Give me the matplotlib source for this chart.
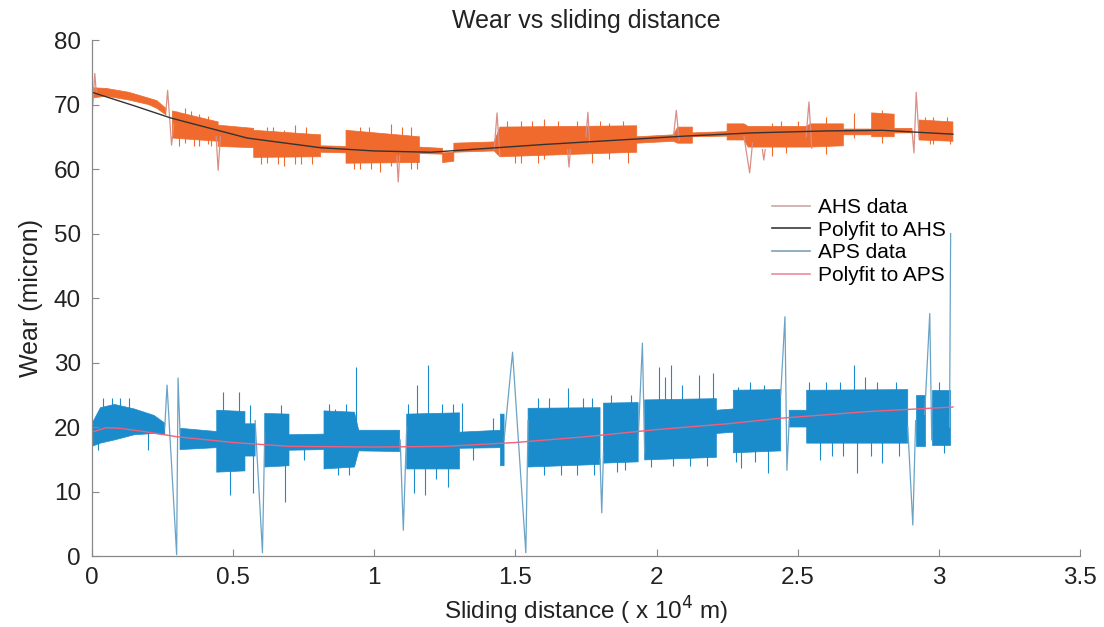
import numpy as np
import matplotlib.pyplot as plt

nan = np.nan

# AHS wear band: x, lower and upper edge of the noisy signal (nan = break)
ahs_x = [0.00, 0.05, 0.13, 0.20, 0.23, 0.262, nan,
         0.285, 0.447, 0.447, 0.573, 0.573, 0.81, 0.81, 0.90, 0.90, 1.16,
         1.16, 1.242, 1.242, 1.282, 1.282, 1.425, 1.445, 1.93, 1.93, 2.06,
         2.075, 2.127, 2.127, 2.25, 2.25, 2.31, 2.325, 2.53, 2.545, 2.662,
         2.662, 2.762, 2.762, 2.842, 2.842, 2.905, nan, 2.93, 3.05]
ahs_lo = [71.0, 71.3, 70.7, 70.0, 69.4, 68.4, nan,
          64.8, 64.3, 63.5, 63.3, 61.8, 61.9, 62.6, 62.5, 60.9, 61.0,
          62.4, 62.3, 61.0, 61.2, 62.6, 62.8, 61.9, 62.6, 64.0, 64.3,
          64.0, 64.0, 65.0, 65.1, 64.5, 64.5, 63.4, 63.4, 63.4, 63.6,
          65.3, 65.3, 65.0, 65.0, 65.6, 65.6, nan, 64.5, 64.3]
ahs_hi = [72.6, 72.5, 71.9, 71.0, 70.6, 69.4, nan,
          69.0, 67.3, 66.8, 66.3, 66.0, 65.3, 63.6, 63.5, 66.0, 65.0,
          63.4, 63.2, 62.5, 62.6, 64.0, 64.2, 66.5, 66.7, 65.0, 65.3,
          66.5, 66.5, 65.6, 65.8, 67.0, 67.0, 66.6, 66.6, 67.0, 67.0,
          66.2, 66.2, 68.7, 68.5, 66.3, 66.3, nan, 67.6, 67.3]

# AHS excursions (jumps between runs)
ahs_jump_x = [0.0, 0.0, 0.01, 0.015, nan, 0.262, 0.268, 0.282, 0.29, nan,
              0.44, 0.447, 0.455, nan, 1.08, 1.085, 1.09, nan,
              1.425, 1.435, 1.445, nan, 1.685, 1.69, 1.695, nan,
              1.75, 1.757, 1.763, nan, 2.06, 2.07, 2.08, nan,
              2.31, 2.33, 2.34, nan, 2.375, 2.38, 2.385, nan,
              2.53, 2.54, 2.55, nan, 2.905, 2.912, 2.92, 2.93]
ahs_jump_y = [55.0, 68.0, 74.8, 72.0, nan, 69.0, 72.2, 63.7, 67.0, nan,
              65.0, 59.8, 65.0, nan, 62.0, 58.0, 62.0, nan,
              63.0, 68.7, 62.0, nan, 63.0, 60.3, 63.0, nan,
              65.0, 68.8, 64.0, nan, 65.0, 69.1, 64.5, nan,
              65.0, 59.4, 64.0, nan, 63.0, 61.4, 63.0, nan,
              65.0, 70.4, 63.2, nan, 66.0, 62.5, 71.9, 65.0]

# AHS single spikes sticking out of the band
ahs_spk_x = [0.30, 0.31, 0.33, 0.35, 0.36, 0.38, 0.41, 0.42, 0.60, 0.62,
             0.64, 0.66, 0.68, 0.72, 0.74, 0.76, 0.78, 0.93, 0.95, 0.98,
             0.99, 1.02, 1.06, 1.10, 1.13, 1.15, 1.47, 1.50, 1.52, 1.56,
             1.58, 1.60, 1.65, 1.72, 1.77, 1.80, 1.83, 1.88, 1.90, 2.41,
             2.44, 2.46, 2.50, 2.60, 2.70, 2.80, 2.95, 2.97, 2.98, 3.03,
             3.04]
ahs_spk_lo = [66.0, 63.5, 64.0, 66.0, 63.5, 63.5, 63.8, 63.5, 60.8, 61.0,
              63.0, 60.8, 60.5, 60.8, 60.8, 63.0, 60.8, 60.0, 60.0, 63.0,
              60.0, 59.5, 60.5, 63.0, 60.0, 60.0, 64.0, 61.0, 61.0, 64.0,
              61.0, 61.5, 64.0, 64.0, 61.0, 64.0, 61.5, 64.0, 61.0, 62.0,
              64.0, 62.5, 64.0, 62.3, 64.8, 64.0, 65.0, 63.8, 63.8, 65.0,
              63.8]
ahs_spk_hi = [69.0, 66.0, 69.5, 69.0, 66.0, 68.5, 68.2, 66.0, 63.0, 66.5,
              66.5, 63.0, 66.0, 66.8, 63.0, 66.5, 63.0, 63.0, 66.5, 66.5,
              63.0, 65.5, 67.0, 66.5, 66.5, 63.0, 67.5, 64.0, 67.5, 67.5,
              64.0, 67.8, 67.5, 67.5, 64.0, 67.5, 67.2, 67.5, 64.0, 67.2,
              67.5, 64.5, 67.5, 68.0, 68.7, 69.2, 68.0, 66.0, 68.0, 68.0,
              66.0]

# polynomial fit to AHS
ahs_fit_x = [0.0, 0.15, 0.28, 0.55, 0.81, 1.0, 1.2, 1.4, 1.6, 1.87, 2.1,
             2.34, 2.6, 2.8, 3.05]
ahs_fit_y = [71.9, 69.8, 67.9, 64.8, 63.3, 62.8, 62.6, 63.2, 63.8, 64.5, 65.1,
             65.6, 65.9, 66.0, 65.4]

# APS wear band
aps_x = [0.00, 0.03, 0.08, 0.15, 0.22, 0.258, nan,
         0.312, 0.442, 0.442, 0.542, 0.542, 0.578, nan,
         0.612, 0.698, 0.698, 0.822, 0.822, 0.93, 0.945, 1.09, nan,
         1.115, 1.302, 1.302, 1.447, 1.447, 1.46, nan,
         1.545, 1.80, nan, 1.812, 1.935, nan, 1.958, 2.212, 2.212, 2.272,
         2.272, 2.44, nan, 2.47, 2.532, 2.532, 2.89, nan, 2.918, 2.95, nan,
         2.975, 3.04]
aps_lo = [17.0, 17.5, 18.0, 18.8, 19.0, 18.8, nan,
          16.5, 16.8, 13.0, 13.2, 15.5, 15.5, nan,
          13.8, 14.0, 16.4, 16.5, 13.5, 13.8, 16.3, 16.2, nan,
          13.5, 13.5, 16.7, 16.8, 14.0, 14.0, nan,
          13.8, 14.2, nan, 14.4, 14.6, nan, 14.9, 15.3, 19.0, 19.2,
          16.0, 16.3, nan, 20.0, 20.0, 17.5, 17.5, nan, 17.0, 17.0, nan,
          17.2, 17.2]
aps_hi = [20.5, 23.0, 23.5, 22.8, 21.8, 20.6, nan,
          19.8, 19.3, 22.6, 22.4, 20.5, 20.5, nan,
          22.1, 22.0, 18.8, 18.9, 22.5, 22.3, 19.5, 19.5, nan,
          22.0, 22.2, 19.2, 19.5, 22.0, 22.0, nan,
          22.9, 23.0, nan, 23.7, 23.8, nan, 24.2, 24.4, 22.6, 22.8,
          25.7, 25.8, nan, 22.6, 22.6, 25.7, 25.8, nan, 25.0, 25.0, nan,
          25.7, 25.7]

aps_jump_x = [0.258, 0.266, 0.300, 0.305, 0.312, nan, 0.578, 0.604, 0.612, nan,
              1.092, 1.103, 1.115, nan, 1.46, 1.49, 1.537, 1.545, nan,
              1.80, 1.806, 1.812, nan, 1.935, 1.95, 1.958, nan,
              2.44, 2.455, 2.462, 2.47, nan, 2.89, 2.908, 2.918, nan,
              2.95, 2.968, 2.975, nan, 3.038, 3.042]
aps_jump_y = [20.0, 26.5, 0.2, 27.6, 19.0, nan, 21.0, 0.5, 19.0, nan,
              18.0, 4.0, 20.0, nan, 18.0, 31.6, 0.5, 21.0, nan,
              15.0, 6.7, 16.0, nan, 18.0, 33.0, 16.0, nan,
              25.0, 37.1, 13.3, 21.0, nan, 20.0, 4.8, 21.0, nan,
              22.0, 37.6, 18.0, nan, 20.0, 50.0]

aps_spk_x = [0.02, 0.04, 0.07, 0.10, 0.13, 0.20, 0.465, 0.49, 0.52, 0.56,
             0.57, 0.67, 0.685, 0.75, 0.84, 0.86, 0.87, 0.90, 0.91, 0.935,
             1.12, 1.14, 1.15, 1.18, 1.19, 1.22, 1.24, 1.26, 1.28, 1.31,
             1.35, 1.42, 1.58, 1.60, 1.62, 1.66, 1.686, 1.72, 1.74, 1.77,
             1.78, 1.84, 1.86, 1.89, 1.91, 1.98, 2.01, 2.03, 2.05, 2.06,
             2.09, 2.12, 2.15, 2.18, 2.20, 2.28, 2.29, 2.30, 2.33, 2.35,
             2.38, 2.395, 2.54, 2.58, 2.60, 2.62, 2.65, 2.66, 2.70, 2.71,
             2.74, 2.76, 2.78, 2.80, 2.85, 2.86, 3.00, 3.02]
aps_spk_lo = [16.5, 20.0, 20.0, 19.0, 20.0, 16.4, 18.0, 9.5, 18.0, 18.0,
              9.8, 18.0, 8.4, 14.9, 18.0, 18.0, 12.5, 18.0, 12.5, 18.0,
              18.0, 9.8, 18.0, 9.5, 18.0, 12.0, 18.0, 10.7, 18.0, 18.0,
              14.9, 18.0, 18.0, 12.5, 18.0, 12.5, 18.0, 12.5, 18.0, 18.0,
              12.5, 19.0, 13.0, 13.3, 19.0, 13.8, 19.0, 19.0, 19.0, 14.0,
              19.0, 14.0, 19.0, 14.0, 19.0, 14.5, 20.0, 13.6, 20.0, 14.5,
              20.0, 12.9, 21.0, 14.9, 21.0, 15.5, 21.0, 15.5, 21.0, 12.9,
              21.0, 15.5, 21.0, 14.4, 21.0, 15.5, 21.0, 16.0]
aps_spk_hi = [19.0, 24.5, 24.5, 24.5, 24.5, 19.0, 25.4, 18.0, 25.4, 23.4,
              18.0, 23.4, 18.0, 18.0, 23.5, 22.8, 18.0, 23.5, 18.0, 29.3,
              23.5, 18.0, 26.5, 18.0, 29.6, 18.0, 23.5, 18.0, 23.5, 23.7,
              18.0, 21.4, 24.5, 18.0, 24.5, 18.0, 26.0, 18.0, 24.5, 24.5,
              18.0, 25.0, 19.0, 20.0, 25.0, 20.0, 29.3, 27.7, 29.6, 19.0,
              26.5, 19.0, 28.0, 19.0, 28.3, 20.0, 26.2, 20.0, 27.0, 20.0,
              26.5, 20.0, 27.0, 21.0, 27.0, 21.0, 27.0, 21.0, 29.6, 21.0,
              27.8, 21.0, 27.0, 21.0, 27.0, 21.0, 27.0, 21.0]

aps_fit_x = [0.0, 0.05, 0.1, 0.2, 0.3, 0.5, 0.7, 1.0, 1.25, 1.5, 1.75, 2.0,
             2.25, 2.45, 2.75, 3.05]
aps_fit_y = [19.2, 19.9, 19.8, 19.2, 18.5, 17.6, 17.0, 16.9, 17.0, 17.6, 18.5,
             19.6, 20.5, 21.4, 22.4, 23.1]

orange = '#ef6a2c'
blue = '#1b8ccb'

plt.rcParams['font.family'] = ['Liberation Sans', 'DejaVu Sans']
fig = plt.figure(figsize=(11.04, 6.27), dpi=100)
ax = fig.add_axes([0.0833, 0.1132, 0.8949, 0.8230])

# AHS data
ax.fill_between(ahs_x, ahs_lo, ahs_hi, color=orange, lw=0.5, edgecolor=orange)
ax.vlines(ahs_spk_x, ahs_spk_lo, ahs_spk_hi, color=orange, lw=0.8)
ax.plot(ahs_jump_x, ahs_jump_y, color='#d98f86', lw=0.9)
ax.plot(ahs_fit_x, ahs_fit_y, color='#333333', lw=1.0)

# APS data
ax.fill_between(aps_x, aps_lo, aps_hi, color=blue, lw=0.5, edgecolor=blue)
ax.vlines(aps_spk_x, aps_spk_lo, aps_spk_hi, color=blue, lw=0.8)
ax.plot(aps_jump_x, aps_jump_y, color='#6aa3c6', lw=0.9)
ax.plot(aps_fit_x, aps_fit_y, color='#f0607c', lw=1.0)

# legend with thin faded handles
h1, = ax.plot([], [], color='#c9aaa6', lw=1.2)
h2, = ax.plot([], [], color='#3a3a3a', lw=1.2)
h3, = ax.plot([], [], color='#7f9fb5', lw=1.2)
h4, = ax.plot([], [], color='#f08a9a', lw=1.2)
ax.legend([h1, h2, h3, h4],
          ['AHS data', 'Polyfit to AHS', 'APS data', 'Polyfit to APS'],
          loc='upper left', bbox_to_anchor=(0.68, 0.71), frameon=False,
          fontsize=15, handlelength=1.8, handletextpad=0.4, labelspacing=0.18,
          borderaxespad=0)

ax.set_xlim(0, 3.5)
ax.set_ylim(0, 80)
ax.set_xticks(np.arange(0, 3.51, 0.5))
ax.set_xticklabels(['0', '0.5', '1', '1.5', '2', '2.5', '3', '3.5'])
ax.set_yticks(np.arange(0, 81, 10))
ax.tick_params(direction='in', length=5, width=0.8, colors='#888888',
               labelcolor='#222222', labelsize=17.5, pad=8)
for s in ['top', 'right']:
    ax.spines[s].set_visible(False)
for s in ['left', 'bottom']:
    ax.spines[s].set_color('#888888')
    ax.spines[s].set_linewidth(0.9)

ax.set_title('Wear vs sliding distance', fontsize=18, color='#222222', pad=9)
ax.set_xlabel(r'Sliding distance ( x 10$^4$ m)', fontsize=17.5, color='#222222')
ax.set_ylabel('Wear (micron)', fontsize=18, color='#222222', labelpad=8)

fig.savefig('out.png', dpi=100)
